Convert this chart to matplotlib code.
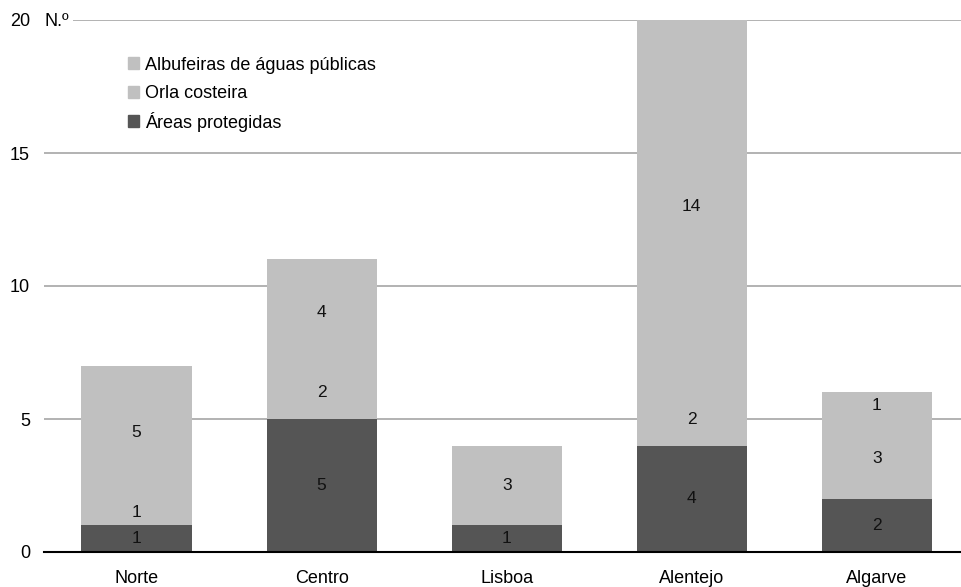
import matplotlib.pyplot as plt
from matplotlib.patches import Rectangle
import numpy as np

plt.rcParams['font.family'] = ['Liberation Sans', 'DejaVu Sans']

regioes = ['Norte', 'Centro', 'Lisboa', 'Alentejo', 'Algarve']
areas_protegidas = [1, 5, 1, 4, 2]
orla_costeira = [1, 2, 3, 2, 3]
albufeiras = [5, 4, 0, 14, 1]

series = [
    ('Áreas protegidas', areas_protegidas, '#555555'),
    ('Orla costeira', orla_costeira, '#c0c0c0'),
    ('Albufeiras de águas públicas', albufeiras, '#c0c0c0'),
]

W, H = 962, 587
fig = plt.figure(figsize=(W / 100, H / 100), dpi=100)
ax = fig.add_axes([44 / W, 35 / H, 918 / W, 532 / H])

x = np.arange(len(regioes))
bottom = np.zeros(len(regioes))
for name, vals, color in series:
    bars = ax.bar(x, vals, 0.595, bottom=bottom, color=color, label=name, zorder=2)
    labels = [str(v) if v else '' for v in vals]
    ax.bar_label(bars, labels=labels, label_type='center', fontsize=12.5, color='#111111')
    bottom += np.array(vals)

ax.set_xlim(-0.5, 4.46)
ax.set_ylim(0, 20)
ax.set_yticks([0, 5, 10, 15, 20])
ax.yaxis.grid(True, color='#a6a6a6', linewidth=1.2, zorder=0)
ax.set_axisbelow(True)
for s in ['top', 'right', 'left']:
    ax.spines[s].set_visible(False)
ax.spines['bottom'].set_color('black')
ax.spines['bottom'].set_linewidth(1.5)
ax.spines['bottom'].set_zorder(3)
ax.tick_params(axis='both', length=0, labelsize=13)
ax.tick_params(axis='y', pad=10)
ax.tick_params(axis='x', pad=13)
ax.set_xticks(x)
ax.set_xticklabels(regioes)

ax.text(0.0, 20, 'N.º', fontsize=13, ha='left', va='center_baseline',
        transform=ax.get_yaxis_transform(),
        bbox=dict(facecolor='white', edgecolor='none', pad=3), zorder=4)

# legend drawn by hand so rows are evenly spaced
for i, (name, vals, color) in enumerate(series[::-1]):
    row = 63 + 29 * i
    fig.patches.append(Rectangle((128 / W, 1 - (row + 5.5) / H), 11 / W, 11 / H,
                                 transform=fig.transFigure, color=color))
    fig.text(145 / W, 1 - (row + 6.5) / H, name, fontsize=13,
             va='baseline', ha='left')

fig.savefig('out.png', dpi=100)
